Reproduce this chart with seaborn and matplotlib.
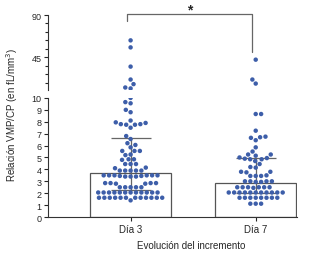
import numpy as np
import pandas as pd
import matplotlib
matplotlib.use("Agg")
import matplotlib.pyplot as plt
from matplotlib.ticker import MultipleLocator
import seaborn as sns

# categorias y resumen (mediana, p25, p75)
dias = ["Día 3", "Día 7"]
medianas = [3.67, 2.88]
p25 = [2.27, 1.99]
p75 = [6.66, 4.98]

# valores individuales (relación VMP/CP)
dia3 = [63.0, 55.5, 35.0, 21.2, 16.3, 12.7, 11.7,
        10.0, 9.65, 9.55, 9.0, 8.8, 8.1, 7.95, 7.9, 7.8, 7.8, 7.75, 7.75, 7.5,
        6.8, 6.55, 6.2, 6.05, 5.85, 5.55, 5.55, 5.55, 5.25, 5.2,
        4.85, 4.85, 4.8, 4.45, 4.45, 4.45, 4.15, 4.1,
        3.9, 3.9, 3.9, 3.9, 3.9,
        3.5, 3.4, 3.5, 3.4, 3.5, 3.45, 3.5, 3.4, 3.5, 3.45, 3.5,
        2.85, 2.85, 2.8, 2.85, 2.8, 2.85,
        2.5, 2.5, 2.5, 2.5, 2.5,
        2.06, 2.06, 2.06, 2.06, 2.06, 2.06, 2.06, 2.06, 2.06, 2.06, 2.06, 2.06,
        1.62, 1.62, 1.62, 1.62, 1.62, 1.62, 1.62, 1.62, 1.62, 1.62, 1.62, 1.62,
        1.4]
dia7 = [42.4, 21.2, 16.9,
        8.65, 8.65, 7.25, 6.75, 6.7, 6.65, 6.45, 5.85, 5.5,
        5.25, 5.25, 5.15, 5.0, 4.95, 4.9, 4.85, 4.85, 4.7, 4.45, 4.2, 4.15,
        3.8, 3.8, 3.75, 3.45, 3.45, 3.5, 3.45,
        3.0, 3.0, 2.95, 3.0, 3.0, 2.95,
        2.5, 2.5, 2.5, 2.5, 2.45, 2.5, 2.5,
        2.06, 2.06, 2.06, 2.06, 2.06, 2.06, 2.06, 2.06, 2.06, 2.06, 2.06,
        1.62, 1.62, 1.62, 1.62, 1.62, 1.62, 1.62, 1.62,
        1.12, 1.12, 1.12]

df = pd.DataFrame({
    "dia": ["Día 3"] * len(dia3) + ["Día 7"] * len(dia7),
    "valor": dia3 + dia7,
})

sns.set_style("ticks")
plt.rcParams["font.family"] = ["Liberation Sans", "DejaVu Sans"]

azul = "#3d5ea9"
gris = "#666666"

fig = plt.figure(figsize=(3.32, 2.55), dpi=100)
ax_top = fig.add_axes([0.1446, 0.643, 0.75, 0.294])
ax_bot = fig.add_axes([0.1446, 0.145, 0.75, 0.467])

sns.barplot(x=dias, y=medianas, ax=ax_bot, color="white", edgecolor="#555555",
            linewidth=0.9, width=0.65, errorbar=None, zorder=1)
ax_bot.errorbar([0, 1], medianas,
                yerr=[np.array(medianas) - np.array(p25), np.array(p75) - np.array(medianas)],
                fmt="none", ecolor=gris, elinewidth=0.9, capsize=14.4, capthick=0.9, zorder=2)

# cada tramo del eje partido recibe solo los puntos de su rango
sns.swarmplot(data=df[df["valor"] <= 10.2], x="dia", y="valor", order=dias, ax=ax_bot,
              color=azul, size=3.2, edgecolor="none", linewidth=0.5, zorder=3)
sns.swarmplot(data=df[df["valor"] > 10.2], x="dia", y="valor", order=dias, ax=ax_top,
              color=azul, size=3.2, edgecolor="none", linewidth=0.5, zorder=3)

for ax in (ax_top, ax_bot):
    ax.set_xlim(-0.66, 1.33)
    ax.set_xlabel("")
    ax.set_ylabel("")

ax_bot.set_ylim(0, 10)
ax_bot.set_yticks(range(0, 11))
ax_top.set_ylim(10, 90)
ax_top.set_yticks([45, 90])
ax_top.yaxis.set_minor_locator(MultipleLocator(9))

sns.despine(ax=ax_bot)
sns.despine(ax=ax_top, bottom=True)
ax_top.set_xticks([])

for ax in (ax_top, ax_bot):
    ax.tick_params(axis="y", labelsize=6.5, length=3, width=0.8, pad=1.5)
    ax.tick_params(axis="y", which="minor", length=2, width=0.8)
    for s in ax.spines.values():
        s.set_linewidth(0.8)
        s.set_color("#333333")
ax_bot.tick_params(axis="x", labelsize=7, length=3, width=0.8, pad=2)

# corchete de significacion
ax_top.plot([-0.03, -0.03, 0.97, 0.97], [84, 91, 91, 50.5], color=gris, lw=0.9,
            clip_on=False)
ax_top.text(0.47, 96, "*", ha="center", va="center", fontsize=10, fontweight="bold",
            clip_on=False)

fig.text(0.036, 0.55, "Relación VMP/CP (en fL/mm$^3$)", rotation=90, ha="center",
         va="center", fontsize=7)
fig.text(0.575, 0.035, "Evolución del incremento", ha="center", va="center", fontsize=7)

fig.savefig("out.png", dpi=100)
